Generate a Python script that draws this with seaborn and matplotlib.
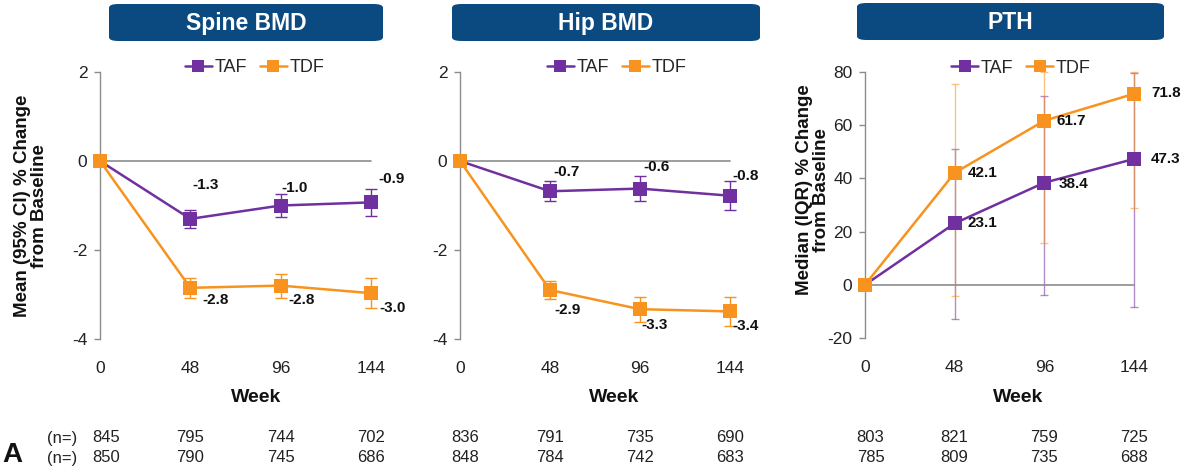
import numpy as np
import pandas as pd
import matplotlib
matplotlib.use("Agg")
import matplotlib.pyplot as plt
from matplotlib.patches import FancyBboxPatch
from matplotlib.lines import Line2D
import seaborn as sns

# ---------------- data ----------------
weeks = [0, 48, 96, 144]
groups = ["TAF", "TDF"]

spine_taf = [0.0, -1.3, -1.0, -0.93]
spine_tdf = [0.0, -2.85, -2.8, -2.97]
spine_taf_lo = [0.0, -1.51, -1.26, -1.24]
spine_taf_hi = [0.0, -1.09, -0.74, -0.62]
spine_tdf_lo = [0.0, -3.07, -3.07, -3.30]
spine_tdf_hi = [0.0, -2.63, -2.53, -2.64]
spine_taf_lbl = ["", "-1.3", "-1.0", "-0.9"]
spine_tdf_lbl = ["", "-2.8", "-2.8", "-3.0"]

hip_taf = [0.0, -0.68, -0.62, -0.78]
hip_tdf = [0.0, -2.9, -3.33, -3.38]
hip_taf_lo = [0.0, -0.90, -0.90, -1.11]
hip_taf_hi = [0.0, -0.46, -0.34, -0.45]
hip_tdf_lo = [0.0, -3.10, -3.61, -3.71]
hip_tdf_hi = [0.0, -2.70, -3.05, -3.05]
hip_taf_lbl = ["", "-0.7", "-0.6", "-0.8"]
hip_tdf_lbl = ["", "-2.9", "-3.3", "-3.4"]

pth_taf = [0.0, 23.1, 38.4, 47.3]
pth_tdf = [0.0, 42.1, 61.7, 71.8]
pth_taf_lo = [0.0, -12.8, -4.0, -8.3]
pth_taf_hi = [0.0, 51.0, 71.0, 79.6]
pth_tdf_lo = [0.0, -4.2, 15.8, 29.0]
pth_tdf_hi = [0.0, 75.5, 80.0, 80.0]
pth_taf_lbl = ["", "23.1", "38.4", "47.3"]
pth_tdf_lbl = ["", "42.1", "61.7", "71.8"]

n_spine_taf = ["845", "795", "744", "702"]
n_spine_tdf = ["850", "790", "745", "686"]
n_hip_taf = ["836", "791", "735", "690"]
n_hip_tdf = ["848", "784", "742", "683"]
n_pth_taf = ["803", "821", "759", "725"]
n_pth_tdf = ["785", "809", "735", "688"]

titles = ["Spine BMD", "Hip BMD", "PTH"]
ylab_bmd = "Mean (95% CI) % Change\nfrom Baseline"
ylab_pth = "Median (IQR) % Change\nfrom Baseline"

# ---------------- style ----------------
sns.set_theme(style="white")
plt.rcParams["font.family"] = ["Liberation Sans", "DejaVu Sans"]
plt.rcParams["axes.unicode_minus"] = False

PURPLE = "#7030A0"
ORANGE = "#F7931E"
NAVY = "#0B4A80"
GRAY = "#8C8C8C"

W, H = 1189, 471
fig = plt.figure(figsize=(W / 100, H / 100), dpi=100)


def fx(x):
    return x / W


def fy(y):
    return 1 - y / H


def add_axes(x0, x1, y0, y1):
    return fig.add_axes([fx(x0), fy(y1), fx(x1 - x0), (y1 - y0) / H])


ax1 = add_axes(100, 371, 72, 339)
ax2 = add_axes(460, 730, 72, 339)
ax3 = add_axes(865, 1134, 72, 338)

# label offsets in pixels (x right, y up)
panels = [
    dict(ax=ax1, taf=spine_taf, tdf=spine_tdf, taf_lo=spine_taf_lo, taf_hi=spine_taf_hi,
         tdf_lo=spine_tdf_lo, tdf_hi=spine_tdf_hi, taf_lbl=spine_taf_lbl, tdf_lbl=spine_tdf_lbl,
         ylim=(-4, 2), yticks=[-4, -2, 0, 2], kind="bmd", leg_x=0.57,
         taf_off=[(0, 0), (15, 34), (14, 18), (21, 23)],
         tdf_off=[(0, 0), (25, -12), (21, -14), (22, -15)]),
    dict(ax=ax2, taf=hip_taf, tdf=hip_tdf, taf_lo=hip_taf_lo, taf_hi=hip_taf_hi,
         tdf_lo=hip_tdf_lo, tdf_hi=hip_tdf_hi, taf_lbl=hip_taf_lbl, tdf_lbl=hip_tdf_lbl,
         ylim=(-4, 2), yticks=[-4, -2, 0, 2], kind="bmd", leg_x=0.58,
         taf_off=[(0, 0), (17, 19), (17, 22), (16, 20)],
         tdf_off=[(0, 0), (18, -20), (15, -16), (16, -15)]),
    dict(ax=ax3, taf=pth_taf, tdf=pth_tdf, taf_lo=pth_taf_lo, taf_hi=pth_taf_hi,
         tdf_lo=pth_tdf_lo, tdf_hi=pth_tdf_hi, taf_lbl=pth_taf_lbl, tdf_lbl=pth_tdf_lbl,
         ylim=(-20, 80), yticks=[-20, 0, 20, 40, 60, 80], kind="pth", leg_x=0.58,
         taf_off=[(0, 0), (28, 0), (29, -1), (32, 0)],
         tdf_off=[(0, 0), (28, 0), (27, 0), (32, 1)]),
]

for p in panels:
    ax = p["ax"]
    df = pd.DataFrame({
        "week": weeks * 2,
        "value": p["taf"] + p["tdf"],
        "group": ["TAF"] * 4 + ["TDF"] * 4,
    })
    x = np.array(weeks, dtype=float)
    # error bars
    if p["kind"] == "bmd":
        ekw = dict(fmt="none", elinewidth=1.0, capsize=4, capthick=1.0, zorder=2)
        ealpha = 1.0
    else:
        ekw = dict(fmt="none", elinewidth=1.0, capsize=3, capthick=1.0, zorder=1)
        ealpha = 0.55
    for key, col in (("taf", PURPLE), ("tdf", ORANGE)):
        m = np.array(p[key])
        lo = np.array(p[key + "_lo"])
        hi = np.array(p[key + "_hi"])
        eb = ax.errorbar(x[1:], m[1:], yerr=[m[1:] - lo[1:], hi[1:] - m[1:]],
                         ecolor=col, alpha=ealpha, **ekw)
        for art in list(eb.lines[1]) + list(eb.lines[2]):
            art.set_clip_on(False)
    ax.axhline(0, color=GRAY, lw=1.2, zorder=1.5)
    sns.lineplot(data=df, x="week", y="value", hue="group", palette=[PURPLE, ORANGE],
                 marker="s", markersize=10, markeredgewidth=0, linewidth=1.8,
                 legend=False, ax=ax, zorder=3)
    for line in ax.get_lines():
        line.set_clip_on(False)

    # value labels
    for key, offs in (("taf", p["taf_off"]), ("tdf", p["tdf_off"])):
        for wk, v, lbl, off in zip(weeks, p[key], p[key + "_lbl"], offs):
            if lbl:
                ax.annotate(lbl, (wk, v), xytext=off, textcoords="offset pixels",
                            ha="center", va="center", fontsize=11, fontweight="bold",
                            color="#111111", annotation_clip=False, zorder=5)

    ax.set_xlim(0, 144)
    ax.set_ylim(*p["ylim"])
    ax.set_yticks(p["yticks"])
    ax.set_xticks(weeks)
    ax.set_xticklabels([str(w) for w in weeks])
    ax.set_xlabel("")
    ax.set_ylabel("")
    for s in ("top", "right", "bottom"):
        ax.spines[s].set_visible(False)
    ax.spines["left"].set_color(GRAY)
    ax.spines["left"].set_linewidth(1.0)
    ax.tick_params(axis="y", left=True, length=4, width=1, color=GRAY, pad=5,
                   labelsize=12.5, labelcolor="#222222")
    ax.tick_params(axis="x", bottom=False, length=0, pad=16, labelsize=12.5,
                   labelcolor="#222222")
    ax.set_facecolor("none")

    # legend
    handles = [Line2D([], [], color=PURPLE, marker="s", markersize=9, markeredgewidth=0, lw=1.8),
               Line2D([], [], color=ORANGE, marker="s", markersize=9, markeredgewidth=0, lw=1.8)]
    ax.legend(handles, groups, loc="center", ncol=2, frameon=False, fontsize=13,
              handlelength=1.5, handletextpad=0.15, columnspacing=0.7,
              bbox_to_anchor=(p["leg_x"], 1.015))

# title boxes
boxes = [(109, 383, 4, 41), (452, 760, 4, 41), (857, 1164, 3, 40)]
for (x0, x1, y0, y1), t in zip(boxes, titles):
    patch = FancyBboxPatch((fx(x0), fy(y1)), fx(x1 - x0), (y1 - y0) / H,
                           boxstyle="round,pad=0,rounding_size=0.008",
                           transform=fig.transFigure, facecolor=NAVY, edgecolor="none",
                           mutation_aspect=H / W * 2.5)
    fig.add_artist(patch)
    fig.text(fx((x0 + x1) / 2), fy((y0 + y1) / 2 + 1), t, ha="center", va="center",
             color="white", fontsize=16.5, fontweight="bold")

# y labels
fig.text(fx(31), fy(206), ylab_bmd, rotation=90, ha="center", va="center",
         fontsize=13.5, fontweight="bold", linespacing=1.0, color="#111111")
fig.text(fx(813), fy(190), ylab_pth, rotation=90, ha="center", va="center",
         fontsize=13.5, fontweight="bold", linespacing=1.0, color="#111111")

# x labels
for xc in (256, 614, 1018):
    fig.text(fx(xc), fy(397), "Week", ha="center", va="center", fontsize=14,
             fontweight="bold", color="#111111")

# n rows
nrows = [(ax1, n_spine_taf, n_spine_tdf), (ax2, n_hip_taf, n_hip_tdf), (ax3, n_pth_taf, n_pth_tdf)]
for ax, ntaf, ntdf in nrows:
    tr = matplotlib.transforms.blended_transform_factory(ax.transData, fig.transFigure)
    for wk, a, b in zip(weeks, ntaf, ntdf):
        xx = wk + (3 if wk == 0 else 0)
        ax.text(xx, fy(438), a, transform=tr, ha="center", va="center", fontsize=12,
                color="#222222")
        ax.text(xx, fy(458), b, transform=tr, ha="center", va="center", fontsize=12,
                color="#222222")
fig.text(fx(62), fy(438), "(n=)", ha="center", va="center", fontsize=12, color="#222222")
fig.text(fx(62), fy(458), "(n=)", ha="center", va="center", fontsize=12, color="#222222")
fig.text(fx(12), fy(455), "A", ha="center", va="center", fontsize=20, fontweight="bold",
         color="#111111")

fig.savefig("out.png", dpi=100)
